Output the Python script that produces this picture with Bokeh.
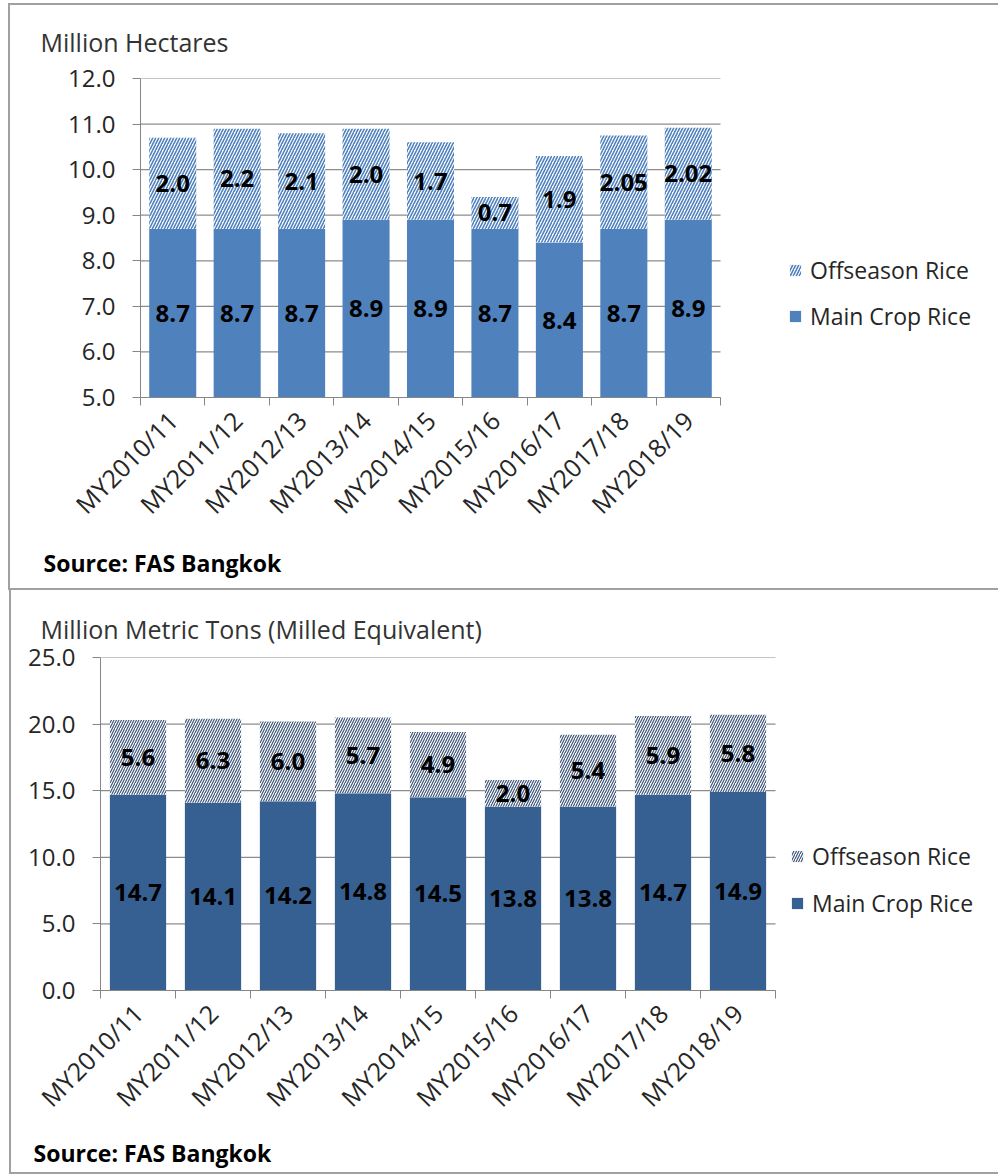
import numpy as np
from bokeh.plotting import figure
from bokeh.models import (Range1d, FixedTicker, Legend, LegendItem, Title,
                          NumeralTickFormatter)
from bokeh.embed import file_html
from bokeh.resources import INLINE
from bokeh.core.properties import value

# ---------------- data ----------------
years = ["MY2010/11", "MY2011/12", "MY2012/13", "MY2013/14", "MY2014/15",
         "MY2015/16", "MY2016/17", "MY2017/18", "MY2018/19"]
area_main = [8.7, 8.7, 8.7, 8.9, 8.9, 8.7, 8.4, 8.7, 8.9]
area_off = [2.0, 2.2, 2.1, 2.0, 1.7, 0.7, 1.9, 2.05, 2.02]
prod_main = [14.7, 14.1, 14.2, 14.8, 14.5, 13.8, 13.8, 14.7, 14.9]
prod_off = [5.6, 6.3, 6.0, 5.7, 4.9, 2.0, 5.4, 5.9, 5.8]
series_names = ["Offseason Rice", "Main Crop Rice"]
source_text = "Source: FAS Bangkok"

FONT = "Open Sans"
GRID = "#8c8c8c"
AXIS = "#868686"
TXT = "#262626"
BOX = "#a0a0a0"
PAGE_W = 998


def build(title, main, off, ymin, ymax, ystep, height, left, chart_w, top,
          bottom, bar_w, main_color, hatch_color, hatch_weight, hatch_scale,
          title_off, title_standoff, src_off, src_standoff, leg_x, leg_y,
          leg_spacing, css_bg):
    n = len(years)
    xs = np.arange(1, n + 1)
    main = np.array(main, dtype=float)
    off = np.array(off, dtype=float)
    # frame runs to the page edge; the category part covers chart_w pixels
    frame_w = PAGE_W - left
    x_end = 0.5 + n * frame_w / chart_w
    p = figure(width=PAGE_W, height=height, x_range=Range1d(0.5, x_end),
               y_range=Range1d(ymin, ymax), output_backend="svg",
               toolbar_location=None, min_border_left=left,
               min_border_right=0, min_border_top=top,
               min_border_bottom=bottom)
    p.outline_line_color = None
    p.background_fill_color = "white"
    p.border_fill_color = None
    p.styles = {"background": css_bg}

    # horizontal gridlines limited to the category area
    yticks = list(np.arange(ymin, ymax + 0.001, ystep))
    p.xgrid.grid_line_color = None
    p.ygrid.grid_line_color = None
    p.segment(x0=[0.5] * len(yticks), x1=[n + 0.5] * len(yticks),
              y0=yticks, y1=yticks, line_color=GRID, line_width=1.2,
              level="underlay")

    r_main = p.vbar(x=xs, top=main, bottom=0, width=bar_w,
                    fill_color=main_color, line_color=None)
    r_off = p.vbar(x=xs, bottom=main, top=main + off, width=bar_w,
                   fill_color="white", line_color=None,
                   hatch_pattern="/", hatch_color=hatch_color,
                   hatch_weight=hatch_weight, hatch_scale=hatch_scale)

    # data labels (centred in visible part of each segment)
    ym = (np.maximum(main * 0, ymin) + main) / 2.0
    yo = (main + main + off) / 2.0
    for yy, vals in ((ym, main), (yo, off)):
        p.text(x=xs, y=yy, text=[str(v) for v in vals],
               text_font=value(FONT), text_font_style="bold",
               text_font_size="24px", text_color="black",
               text_align="center", text_baseline="middle")

    # axes
    p.yaxis.ticker = FixedTicker(ticks=yticks)
    p.yaxis.formatter = NumeralTickFormatter(format="0.0")
    p.yaxis.axis_line_color = AXIS
    p.yaxis.major_tick_line_color = AXIS
    p.yaxis.major_tick_out = 8
    p.yaxis.major_tick_in = 0
    p.yaxis.minor_tick_line_color = None
    p.yaxis.major_label_standoff = 17
    p.yaxis.major_label_text_font = FONT
    p.yaxis.major_label_text_font_size = "24px"
    p.yaxis.major_label_text_color = TXT

    p.xaxis.ticker = FixedTicker(ticks=list(xs),
                                 minor_ticks=list(np.arange(0.5, n + 1, 1.0)))
    p.xaxis.bounds = (0.5, n + 0.5)
    p.xaxis.major_label_overrides = {int(i): years[i - 1] for i in xs}
    p.xaxis.axis_line_color = AXIS
    p.xaxis.major_tick_line_color = None
    p.xaxis.minor_tick_line_color = AXIS
    p.xaxis.minor_tick_out = 8
    p.xaxis.minor_tick_in = 0
    p.xaxis.major_label_orientation = np.pi / 4
    p.xaxis.major_label_standoff = 10
    p.xaxis.major_label_text_font = FONT
    p.xaxis.major_label_text_font_size = "25px"
    p.xaxis.major_label_text_color = TXT

    legend = Legend(items=[LegendItem(label=series_names[0], renderers=[r_off]),
                           LegendItem(label=series_names[1], renderers=[r_main])],
                    location=(leg_x, leg_y), orientation="vertical",
                    border_line_color=None, background_fill_alpha=0,
                    padding=0, margin=0, spacing=leg_spacing, glyph_width=14,
                    glyph_height=14, label_standoff=8,
                    label_text_font=FONT, label_text_font_size="23px",
                    label_text_color=TXT)
    p.add_layout(legend, "center")

    p.add_layout(Title(text=title, align="left", offset=title_off,
                       standoff=title_standoff, text_font=FONT,
                       text_font_size="25px", text_font_style="normal",
                       text_color="#333333"), "above")
    p.add_layout(Title(text=source_text, align="left", offset=src_off,
                       standoff=src_standoff, text_font=FONT,
                       text_font_size="23px", text_font_style="bold",
                       text_color="black"), "below")
    return p


def lines(segs):
    parts = [f"linear-gradient({BOX},{BOX}) {x}px {y}px / {w}px {h}px no-repeat"
             for (x, y, w, h) in segs]
    return ", ".join(parts) + ", #ffffff"


bg1 = lines([(8, 3, 990, 2), (8, 3, 2, 585)])
bg2 = lines([(8, 0, 990, 2), (9, 0, 2, 586), (9, 584, 989, 2)])

p1 = build("Million Hectares", area_main, area_off, 5.0, 12.0, 1.0,
           588, 140, 580, 78, 191, 0.73, "#4F81BD", "#4F81BD", 1.6, 6,
           -100, 39, -97, 19, 648, 65, 14, bg1)
p2 = build("Million Metric Tons (Milled Equivalent)", prod_main, prod_off,
           0.0, 25.0, 5.0,
           586, 100, 675, 69, 184, 0.75, "#376092", "#3E5578", 1.2, 5,
           -60, 24, -67, 12, 690, 71, 15, bg2)

open("out.html", "w").write(file_html([p1, p2], INLINE))
